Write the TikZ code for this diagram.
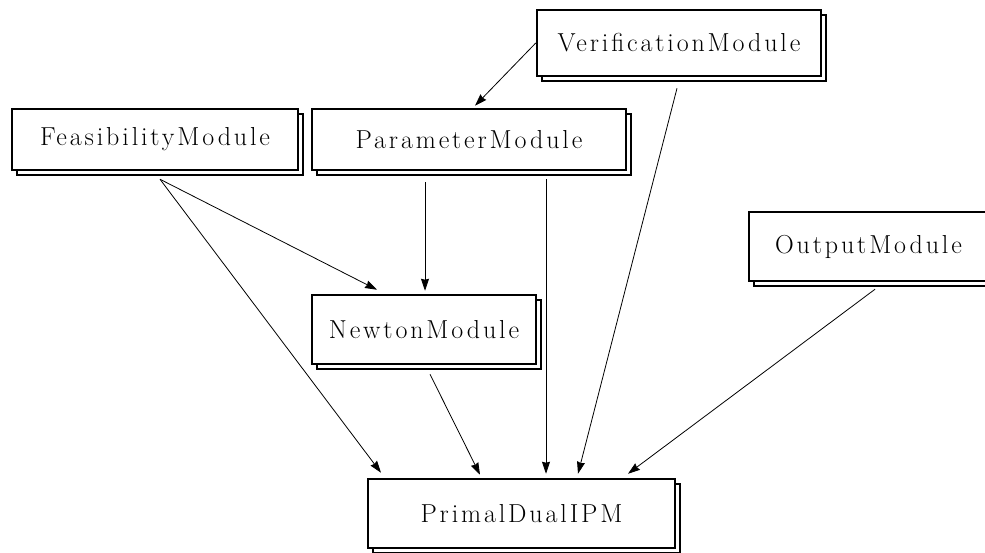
\documentclass[tikz,border=0pt]{standalone}
\usepackage{fontspec}
\setmainfont{Latin Modern Roman}[LetterSpace=11]
\usetikzlibrary{shadows,calc,arrows.meta}
\tikzset{
  modbox/.style={draw=black, fill=white, line width=2.5pt, rectangle, inner sep=0pt,
    font=\fontsize{26}{30}\selectfont,
    copy shadow={shadow xshift=5pt, shadow yshift=-5pt, draw=black, fill=white, line width=2.5pt}},
  arr/.style={line width=0.8pt, -{Stealth[length=12pt,width=8pt,inset=1pt]}}
}
\begin{document}
\begin{tikzpicture}[x=1pt,y=-1pt]
\useasboundingbox (0,0) rectangle (985,552);
\node[modbox, minimum width=284pt, minimum height=66pt] (verif) at (679,43) {VerificationModule};
\node[modbox, minimum width=286pt, minimum height=61pt] (feas) at (155,139.5) {FeasibilityModule};
\node[modbox, minimum width=314pt, minimum height=61pt] (param) at (469,139.5) {ParameterModule};
\node[modbox, minimum width=224pt, minimum height=69pt] (newton) at (424,329.5) {NewtonModule};
\node[modbox, minimum width=239pt, minimum height=69pt] (output) at (868.5,246.5) {OutputModule};
\node[modbox, minimum width=307pt, minimum height=69pt] (primal) at (521.5,513.5) {PrimalDualIPM};

\draw[arr] (verif.west) -- ($(param.north)+(6,-2)$);
\draw[arr] ($(verif.south)+(-2,11)$) -- ($(primal.north)+(56.5,-4)$);
\draw[arr] ($(feas.south)+(5,8)$) -- ($(newton.north)+(-47,-4)$);
\draw[arr] ($(feas.south)+(5,8)$) -- ($(primal.north)+(-140.5,-5)$);
\draw[arr] ($(param.south)+(-44,11)$) -- ($(newton.north)+(1,-3)$);
\draw[arr] ($(param.south)+(77,8)$) -- ($(primal.north)+(24.5,-4)$);
\draw[arr] ($(newton.south)+(6,9)$) -- ($(primal.north)+(-41.5,-3)$);
\draw[arr] ($(output.south)+(6.5,7)$) -- ($(primal.north)+(106.5,-4)$);
\end{tikzpicture}
\end{document}
